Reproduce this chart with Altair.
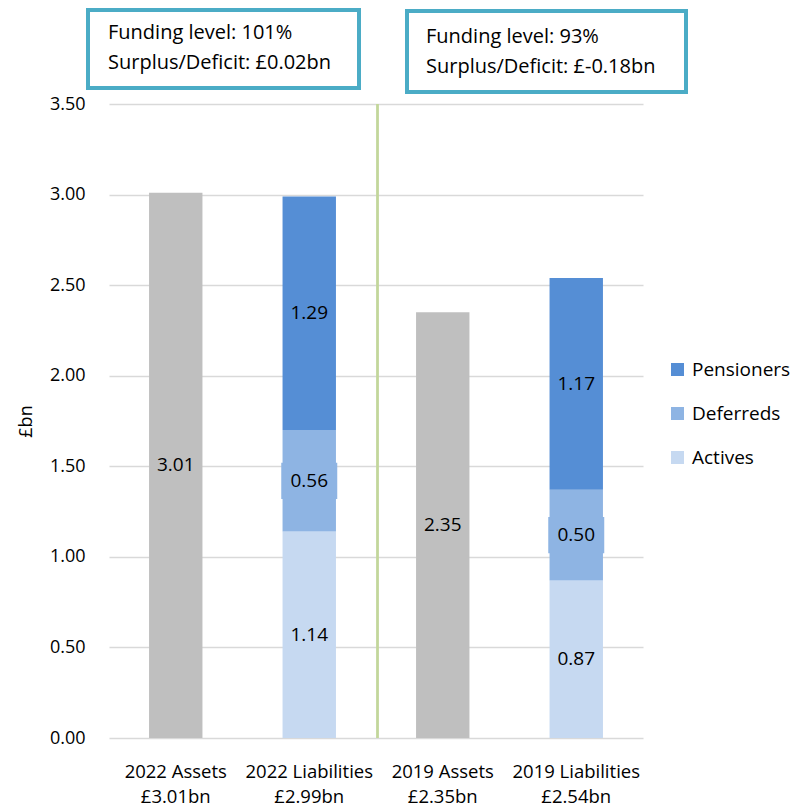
import altair as alt
import pandas as pd

categories = ["2022 Assets\n£3.01bn", "2022 Liabilities\n£2.99bn",
              "2019 Assets\n£2.35bn", "2019 Liabilities\n£2.54bn"]
row_category = [categories[0], categories[1], categories[1], categories[1],
                categories[2], categories[3], categories[3], categories[3]]
row_series = ["Assets", "Actives", "Deferreds", "Pensioners",
              "Assets", "Actives", "Deferreds", "Pensioners"]
row_value = [3.01, 1.14, 0.56, 1.29, 2.35, 0.87, 0.50, 1.17]
stack_rank = {"Assets": 0, "Actives": 0, "Deferreds": 1, "Pensioners": 2}

series_domain = ["Pensioners", "Deferreds", "Actives", "Assets"]
series_colors = ["#558ED5", "#8EB4E3", "#C6D9F1", "#BFBFBF"]
legend_values = ["Pensioners", "Deferreds", "Actives"]

box_texts = ["Funding level: 101%\nSurplus/Deficit: £0.02bn",
             "Funding level: 93%\nSurplus/Deficit: £-0.18bn"]

FONT = "Open Sans"

df = pd.DataFrame({
    "category": row_category,
    "series": row_series,
    "value": row_value,
    "rank": [stack_rank[s] for s in row_series],
})

base = alt.Chart(df).transform_stack(
    stack="value", groupby=["category"], as_=["y0", "y1"],
    sort=[alt.SortField("rank", order="ascending")]
).transform_calculate(
    mid="(datum.y0 + datum.y1) / 2",
    lo="(datum.y0 + datum.y1) / 2 - 0.1",
    hi="(datum.y0 + datum.y1) / 2 + 0.1",
)

x_enc = alt.X("category:N", sort=categories, title=None,
              scale=alt.Scale(paddingInner=0.6, paddingOuter=0.3),
              axis=alt.Axis(labelAngle=0, labelExpr="split(datum.label, '\\n')",
                            labelLineHeight=25, labelFontSize=18.5, labelColor="#000000",
                            labelFont=FONT, labelPadding=24, domain=False, ticks=False))
y_scale = alt.Scale(domain=[0, 3.5], nice=False)

bars = base.mark_bar().encode(
    x=x_enc,
    y=alt.Y("y0:Q", scale=y_scale, title="£bn",
            axis=alt.Axis(values=[0, 0.5, 1, 1.5, 2, 2.5, 3, 3.5], format=".2f",
                          labelFontSize=18, labelFont=FONT, labelColor="#000000",
                          labelPadding=24, titleFont=FONT, titleFontSize=18,
                          titleFontWeight="normal", titleColor="#000000",
                          titlePadding=14, domain=False, ticks=False,
                          gridColor="#D9D9D9", gridWidth=1.5)),
    y2="y1:Q",
    color=alt.Color("series:N",
                    scale=alt.Scale(domain=series_domain, range=series_colors),
                    legend=alt.Legend(values=legend_values, title=None, orient="none",
                                      legendX=559, legendY=256, symbolType="square",
                                      symbolSize=169, symbolStrokeWidth=0,
                                      labelFontSize=19, labelFont=FONT,
                                      labelColor="#000000", rowPadding=24,
                                      labelOffset=5)),
)

label_bg = base.transform_filter("datum.series == 'Deferreds'").mark_bar(
    size=56, color="#8EB4E3"
).encode(
    x=alt.X("category:N", sort=categories),
    y=alt.Y("lo:Q", scale=y_scale),
    y2="hi:Q",
)

labels = base.mark_text(fontSize=19, font=FONT, color="#000000").encode(
    x=alt.X("category:N", sort=categories),
    y=alt.Y("mid:Q", scale=y_scale),
    text=alt.Text("value:Q", format=".2f"),
)

divider = alt.Chart(df).mark_rule(color="#C3D69B", strokeWidth=1.5).encode(
    x=alt.value(268.5), y=alt.value(0), y2=alt.value(634)
)

box_df = pd.DataFrame({"text": box_texts})

box1 = alt.Chart(box_df.iloc[[0]]).mark_rect(
    fill="white", stroke="#4BACC6", strokeWidth=4
).encode(x=alt.value(-21), x2=alt.value(250), y=alt.value(-94), y2=alt.value(-16))
box2 = alt.Chart(box_df.iloc[[1]]).mark_rect(
    fill="white", stroke="#4BACC6", strokeWidth=4
).encode(x=alt.value(298), x2=alt.value(577), y=alt.value(-93), y2=alt.value(-12))

text1 = alt.Chart(box_df.iloc[[0]]).mark_text(
    align="left", baseline="middle", fontSize=20, font=FONT, color="#000000",
    lineBreak="\n", lineHeight=30
).encode(x=alt.value(-1), y=alt.value(-71), text="text:N")
text2 = alt.Chart(box_df.iloc[[1]]).mark_text(
    align="left", baseline="middle", fontSize=20, font=FONT, color="#000000",
    lineBreak="\n", lineHeight=30
).encode(x=alt.value(317), y=alt.value(-67), text="text:N")

chart = alt.layer(
    bars, label_bg, labels, divider, box1, box2, text1, text2
).properties(
    width=534, height=634,
    padding={"left": 9, "top": 0, "right": 0, "bottom": 0},
).configure_view(stroke=None)

chart.save("out.html", embed_options={"renderer": "svg", "actions": False})
